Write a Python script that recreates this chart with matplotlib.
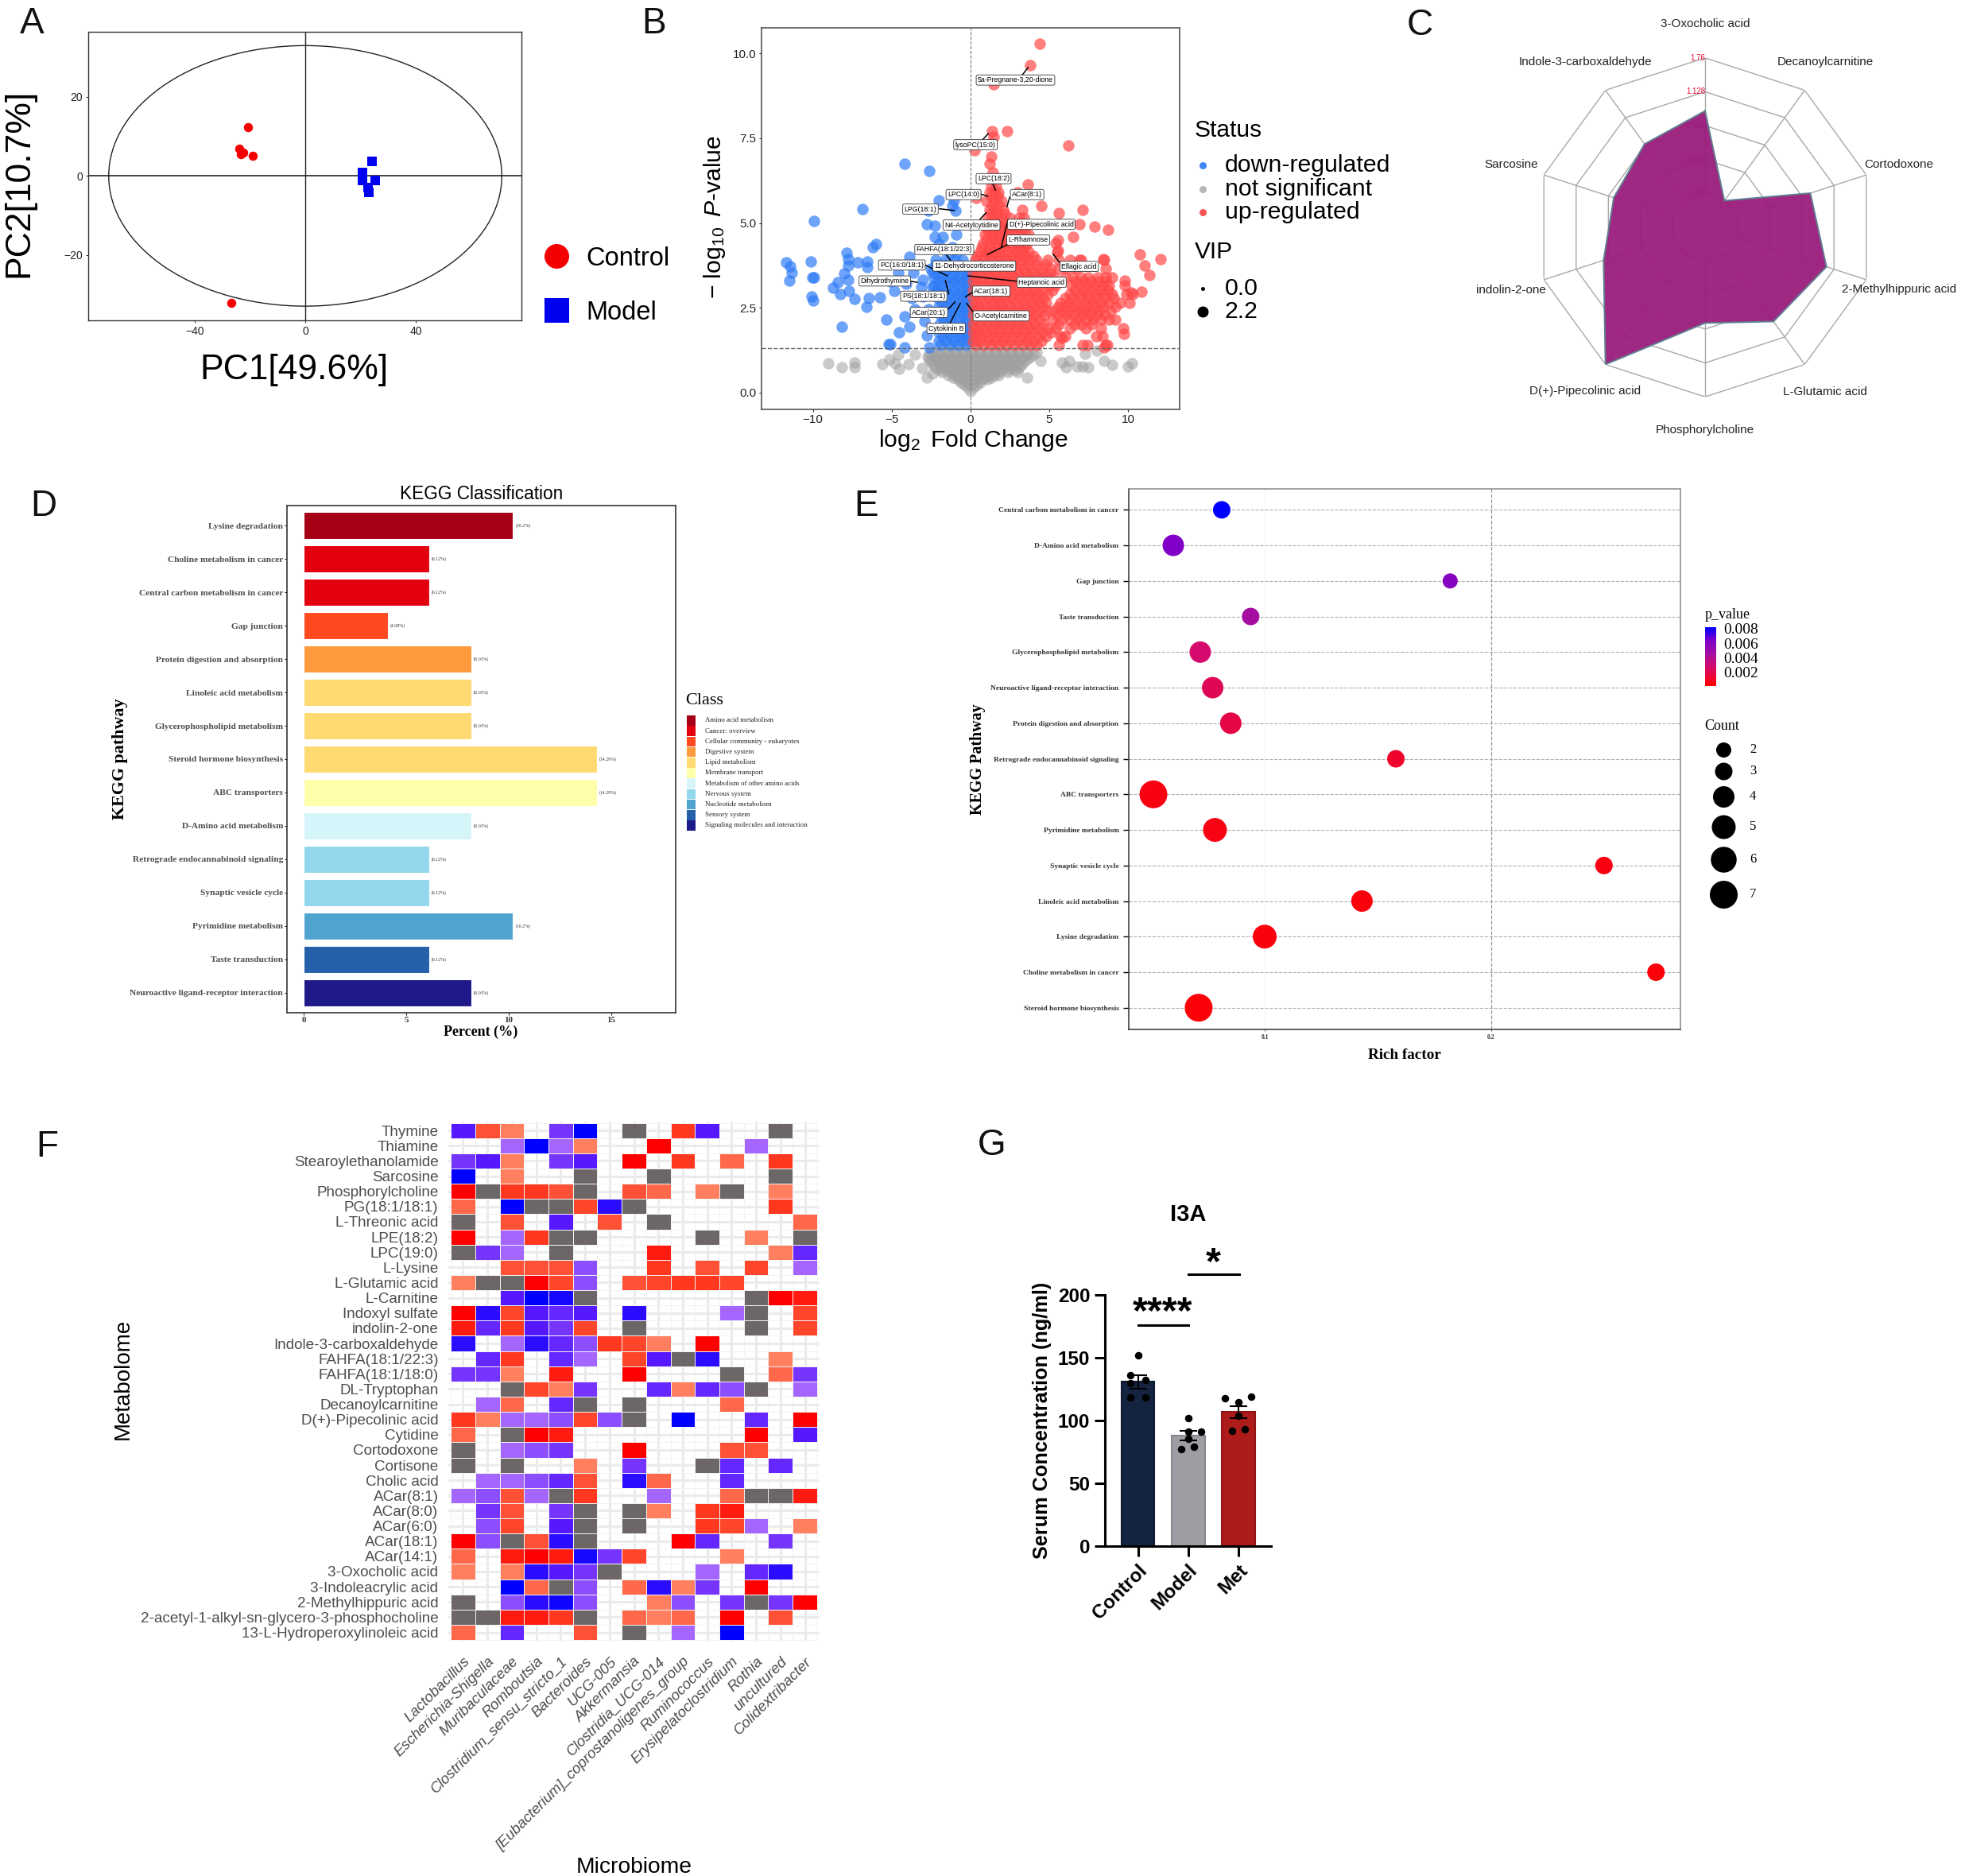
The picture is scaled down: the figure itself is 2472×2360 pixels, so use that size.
import numpy as np
import matplotlib
matplotlib.use('Agg')
import matplotlib.pyplot as plt
from matplotlib.patches import Ellipse, Rectangle
from matplotlib.colors import LinearSegmentedColormap
from matplotlib.path import Path

plt.rcParams['font.family'] = ['Liberation Sans', 'DejaVu Sans']
plt.rcParams['mathtext.fontset'] = 'custom'
plt.rcParams['mathtext.rm'] = 'Liberation Sans'
plt.rcParams['mathtext.it'] = 'Liberation Sans:italic'
plt.rcParams['mathtext.default'] = 'regular'
SERIF = ['Liberation Serif', 'DejaVu Serif']

# ---------- Panel A ----------
pca_control_x = [-20.8, -23.9, -23.4, -22.3, -19.0, -26.8]
pca_control_y = [12.3, 6.8, 5.5, 5.9, 5.1, -32.2]
pca_model_x = [24.0, 20.7, 20.7, 25.2, 22.6, 22.9]
pca_model_y = [3.6, 0.8, -1.1, -1.1, -2.9, -4.1]
pca_ticks_x = [-40, 0, 40]
pca_ticks_y = [-20, 0, 20]

# ---------- Panel B ----------
up_rows = {
 1.40: [.3,.8,1.3,1.8,2.3,2.8,3.3,3.8,4.2,5.6,7.1,7.4,8.6,8.7],
 1.52: [.15,.55,1.05,1.55,2.05,2.55,3.05,3.55,4.0,4.5],
 1.65: [.3,.7,1.2,1.7,2.2,2.7,3.2,3.7,4.3,4.8,5.7,6.0,8.0,8.4],
 1.78: [.15,.5,1.0,1.45,1.95,2.45,2.95,3.45,3.95,4.55,5.1],
 1.90: [.3,.8,1.3,1.8,2.3,2.8,3.3,3.8,4.3,4.9,5.4,6.3,7.3,8.3,9.7],
 2.02: [.15,.55,1.05,1.55,2.05,2.55,3.05,3.55,4.05,4.6,5.6,6.6,7.0,7.7],
 2.15: [.35,.9,1.4,1.9,2.4,2.9,3.4,3.9,4.4,5.2,5.8,6.3,6.8,7.3,7.8,8.3,8.8,9.2],
 2.28: [.15,.6,1.15,1.65,2.15,2.65,3.15,3.65,4.15,4.7,5.5,6.05,6.55,7.05,7.55,8.05,8.55],
 2.40: [.3,.8,1.3,1.8,2.3,2.8,3.3,3.8,4.3,4.9,5.3,5.8,6.2,6.8,7.2,7.7,8.2,8.9],
 2.52: [.15,.55,1.05,1.55,2.05,2.55,3.05,3.55,4.05,4.6,5.55,6.0,6.5,7.0,7.45,7.95,8.45,9.2],
 2.65: [.35,.9,1.4,1.9,2.4,2.9,3.4,3.9,4.4,4.8,5.7,6.2,6.7,7.3,7.8,8.3,8.8,9.5,10.1],
 2.78: [.15,.6,1.15,1.65,2.15,2.65,3.15,3.65,4.15,4.6,6.0,6.45,7.0,7.55,8.05,8.55,9.1],
 2.90: [.3,.8,1.3,1.8,2.3,2.8,3.3,3.8,4.3,4.9,6.3,6.9,7.4,8.0,8.5,9.0,9.9,10.3],
 3.02: [.15,.55,1.05,1.55,2.05,2.55,3.05,3.55,4.05,4.6,5.2,6.6,7.15,7.7,8.25,8.75],
 3.15: [.35,.9,1.4,1.9,2.4,2.9,3.4,3.9,4.4,5.0,5.4,6.4,6.9,7.4,7.9,8.4,8.8,9.8],
 3.28: [.15,.6,1.15,1.65,2.15,2.65,3.15,3.65,4.15,4.65,5.2,6.65,7.15,7.65,8.15,8.6],
 3.40: [.3,.8,1.3,1.8,2.3,2.8,3.3,3.8,4.3,4.8,5.3,6.0,6.5,7.0,7.5,8.1,8.6,9.0],
 3.52: [.15,.55,1.05,1.55,2.05,2.55,3.05,3.55,4.05,4.55,5.05],
 3.65: [.35,.9,1.4,1.9,2.4,2.9,3.4,3.9,4.5,5.1,5.6,6.1,6.7,8.6],
 3.78: [.15,.6,1.15,1.65,2.15,2.65,3.15,3.65,4.2,4.8],
 3.90: [.3,.8,1.3,1.8,2.3,2.8,3.3,3.7,4.2,4.9,5.6,6.3,6.9,7.0,8.5],
 4.02: [.4,.9,1.15,1.65,2.15,2.65,3.1,3.5,4.0],
 4.15: [.6,1.0,1.4,1.9,2.4,2.9,3.3,3.7,5.5],
 4.28: [.7,1.2,1.65,2.15,2.65,3.1,3.45],
 4.40: [.8,1.2,1.6,2.1,2.6,3.1,3.6,5.4],
 4.52: [1.0,1.45,1.85,2.35,2.85,3.35],
 4.65: [.9,1.3,1.7,2.2,2.7,3.2,3.7],
 4.78: [1.1,1.55,2.0,2.45,2.95,3.45],
 4.90: [1.0,1.4,1.9,2.4,3.0,3.4],
 5.02: [1.2,1.65,2.15,3.2],
 5.15: [1.1,1.5,2.0,2.5,3.1,3.4],
 5.28: [1.3,1.75,2.2],
 5.40: [1.2,1.6,2.1,3.3],
 5.52: [1.35,1.8],
 5.65: [1.0,1.5,2.0],
 5.78: [1.3,1.7],
 5.90: [1.2,1.5,1.8],
 6.10: [1.3,1.6],
}
up_x = [4.4,3.8,1.45,2.35,6.2,1.35,1.45,1.3,.25,1.3,1.2,1.4,1.5,3.65,3.0,.35,4.5,7.1,5.6,6.9,7.87,8.73,6.53,5.55,5.55,10.73,12.08,11.05,11.37,8.43,9.78,10.86,10.2,9.76,8.5,5.8]
up_y = [10.3,9.65,9.1,7.7,7.3,7.7,7.55,7.35,7.15,6.95,6.75,6.5,6.3,6.15,5.9,5.75,5.5,5.4,5.3,4.96,4.9,4.8,4.58,4.5,4.2,4.07,3.93,3.75,3.47,3.94,3.3,2.98,2.95,1.74,1.34,1.6]
down_rows = {
 1.40: [-.3,-.8,-1.3,-1.9],
 1.52: [-.15,-.55,-1.05,-1.55,-2.0],
 1.65: [-.3,-.75,-1.25,-1.75],
 1.78: [-.15,-.55,-1.0,-1.5,-2.0],
 1.90: [-.3,-.8,-1.3,-1.75],
 2.02: [-.15,-.55,-1.05,-1.55,-1.95],
 2.15: [-.3,-.75,-1.25,-1.7],
 2.28: [-.15,-.5,-1.0,-1.5,-1.9],
 2.40: [-.3,-.8,-1.3,-1.8],
 2.52: [-.15,-.55,-1.05,-1.55,-2.0],
 2.65: [-.3,-.75,-1.25,-1.8],
 2.78: [-.15,-.5,-1.0,-1.5,-2.05],
 2.90: [-.3,-.8,-1.3,-1.9],
 3.02: [-.15,-.55,-1.05,-1.6,-2.1],
 3.15: [-.3,-.8,-1.3,-1.8,-2.3],
 3.28: [-.15,-.55,-1.05,-1.55,-2.05],
 3.40: [-.3,-.8,-1.3,-1.8,-2.3],
 3.52: [-.15,-.6,-1.1,-1.6,-2.1],
 3.65: [-.35,-.85,-1.4,-1.9,-2.5],
 3.78: [-.6,-1.15,-1.65,-2.2],
 3.90: [-.5,-1.0,-1.6,-2.2],
 4.10: [-1.3,-.9],
}
down_x = [-4.16,-2.6,-6.87,-9.95,-2.03,-1.05,-1.17,-.93,-2.64,-2.76,-2.27,-2.27,-1.78,-.88,-2.03,-1.17,-6.0,-6.19,-7.85,-7.78,-7.16,-6.55,-6.55,-7.78,-10.15,-11.69,-11.44,-11.32,-11.49,-9.93,-10.02,-8.02,-8.39,-7.78,-8.7,-8.26,-7.73,-7.33,-10.1,-9.98,-6.43,-5.75,-6.6,-5.33,-8.14,-4.16,-4.55,-3.86,-5.2,-5.08,-4.18,-2.6,-2.76,-3.86,-4.84,-5.08,-4.6,-4.1,-3.6,-3.0,-2.4,-3.13,-3.74,-2.4,-3.0,-3.5,-2.64,-2.9]
down_y = [6.74,6.53,5.42,5.06,5.67,5.67,5.5,5.36,5.36,4.96,4.92,4.6,4.58,4.65,4.37,4.29,4.39,4.29,4.12,3.94,3.83,3.87,3.7,3.75,3.86,3.83,3.72,3.54,3.3,3.39,3.39,3.5,3.26,3.33,3.1,2.89,2.99,2.77,2.82,2.72,2.78,2.8,2.53,2.15,1.94,2.24,1.78,1.94,1.42,1.42,1.34,1.32,1.69,4.0,3.0,3.28,3.54,3.2,3.54,3.33,3.54,3.12,2.78,3.12,2.82,2.45,2.45,2.11]
ns_rows = {
 0.05: [0.0],
 0.15: [-.2,.2],
 0.22: [-.4,0.0,.4],
 0.30: [-.6,-.2,.2,.6],
 0.38: [-.8,-.45,-.05,.35,.75,1.05],
 0.45: [-1.1,-.7,-.3,.1,.5,.9,1.3],
 0.52: [-1.4,-1.0,-.55,-.15,.3,.7,1.1,1.5,1.8],
 0.60: [-1.8,-1.3,-.9,-.5,-.1,.3,.7,1.1,1.5,1.9,2.4],
 0.68: [-2.0,-1.55,-1.1,-.7,-.25,.2,.65,1.1,1.55,2.0,2.45,2.85],
 0.75: [-2.2,-1.8,-1.3,-.9,-.4,.1,.6,1.1,1.6,2.1,2.6,3.1],
 0.82: [-2.35,-1.9,-1.45,-1.0,-.55,-.1,.35,.85,1.35,1.85,2.35,2.85,3.25],
 0.90: [-2.5,-2.0,-1.5,-1.0,-.5,.0,.5,1.0,1.5,2.0,2.5,3.0,3.4],
 0.98: [-2.6,-2.15,-1.7,-1.25,-.75,-.25,.25,.75,1.25,1.75,2.25,2.75,3.2,3.6],
 1.05: [-2.7,-2.2,-1.7,-1.2,-.7,-.2,.3,.8,1.3,1.8,2.3,2.8,3.3,3.8],
 1.12: [-2.6,-2.1,-1.55,-1.0,-.5,.05,.55,1.05,1.55,2.05,2.55,3.05,3.55,4.0],
 1.20: [-2.4,-1.9,-1.4,-.9,-.4,.1,.6,1.1,1.6,2.1,2.6,3.1,3.6,4.2],
}
ns_x = [-9,-8.14,-7.33,-7.33,-5.57,-5.13,-4.8,-4.55,-3.9,-3.5,-4.6,-3.08,-2.4,-2.76,3.6,4.45,5.8,6.28,6.04,6.77,7.26,7.14,7.5,8.04,8.48,8.97,10.02,10.27,3.0]
ns_y = [.855,.75,.88,.75,.83,.98,.85,.69,.84,1.12,1.12,.73,.56,.44,.44,.94,.88,.92,.75,.77,1.15,.77,.75,1.23,.92,.81,.77,.87,.6]
volcano_labels = ['5a-Pregnane-3,20-dione','lysoPC(15:0)','LPC(18:2)','LPC(14:0)','ACar(8:1)','LPG(18:1)','N4-Acetylcytidine','D(+)-Pipecolinic acid','L-Rhamnose','FAHFA(18:1/22:3)','PC(16:0/18:1)','11-Dehydrocorticosterone','Ellagic acid','Heptanoic acid','Dihydrothymine','ACar(18:1)','PS(18:1/18:1)','ACar(20:1)','O-Acetylcarnitine','Cytokinin B']
volcano_label_x = [2.86,.32,1.47,-.44,3.6,-3.17,.07,4.5,3.67,-1.66,-4.35,.24,6.9,4.52,-5.43,1.32,-2.96,-2.63,1.95,-1.54]
volcano_label_y = [9.22,7.31,6.31,5.84,5.84,5.41,4.94,4.96,4.5,4.22,3.76,3.73,3.72,3.25,3.29,2.99,2.84,2.36,2.26,1.89]
volcano_line_x0 = [3.31,.78,1.4,.61,2.49,-1.96,.61,2.38,2.38,-1.54,-2.87,np.nan,5.67,3.0,-3.91,.12,-1.37,-1.42,.17,-1.29]
volcano_line_y0 = [9.38,7.46,6.18,5.86,5.76,5.42,5.11,5.09,4.37,4.08,3.76,np.nan,3.83,3.28,3.29,2.95,2.91,2.45,2.38,2.05]
volcano_line_x1 = [3.66,1.14,1.59,1.1,2.32,-1.05,.98,1.97,1.08,-1.03,-1.46,np.nan,5.25,-.15,-3.37,-.32,-1.59,-.98,-.24,-.64]
volcano_line_y1 = [9.59,7.64,5.97,5.79,5.48,5.37,5.3,4.31,4.07,3.73,3.44,np.nan,4.08,3.44,3.25,2.82,3.3,2.67,2.63,2.63]
volcano_xticks = [-10,-5,0,5,10]
volcano_yticks = [0.0,2.5,5.0,7.5,10.0]

# ---------- Panel C ----------
radar_names = ['3-Oxocholic acid','Decanoylcarnitine','Cortodoxone','2-Methylhippuric acid','L-Glutamic acid','Phosphorylcholine','D(+)-Pipecolinic acid','indolin-2-one','Sarcosine','Indole-3-carboxaldehyde']
radar_values = [0.77,-0.786,0.664,0.98,0.77,0.384,1.76,0.59,0.39,0.52]
radar_rings = [-0.768,-0.136,0.496,1.128,1.76]
radar_ring_labels = ['0.72','0.137','0.496','1.128','1.76']

# ---------- Panel D ----------
kegg_pathways = ['Lysine degradation','Choline metabolism in cancer','Central carbon metabolism in cancer','Gap junction','Protein digestion and absorption','Linoleic acid metabolism','Glycerophospholipid metabolism','Steroid hormone biosynthesis','ABC transporters','D-Amino acid metabolism','Retrograde endocannabinoid signaling','Synaptic vesicle cycle','Pyrimidine metabolism','Taste transduction','Neuroactive ligand-receptor interaction']
kegg_percent = [10.2,6.12,6.12,4.08,8.16,8.16,8.16,14.29,14.29,8.16,6.12,6.12,10.2,6.12,8.16]
kegg_class_idx = [0,1,1,2,3,4,4,4,5,6,7,7,8,9,10]
kegg_classes = ['Amino acid metabolism','Cancer: overview','Cellular community - eukaryotes','Digestive system','Lipid metabolism','Membrane transport','Metabolism of other amino acids','Nervous system','Nucleotide metabolism','Sensory system','Signaling molecules and interaction']
kegg_colors = ['#A50015','#E3000F','#FF4A20','#FE9A3C','#FEDA70','#FFFFAA','#D5F5FA','#92D7EB','#4FA3CE','#2560AA','#1F1A8A']

# ---------- Panel E ----------
rich_pathways = ['Central carbon metabolism in cancer','D-Amino acid metabolism','Gap junction','Taste transduction','Glycerophospholipid metabolism','Neuroactive ligand-receptor interaction','Protein digestion and absorption','Retrograde endocannabinoid signaling','ABC transporters','Pyrimidine metabolism','Synaptic vesicle cycle','Linoleic acid metabolism','Lysine degradation','Choline metabolism in cancer','Steroid hormone biosynthesis']
rich_factor = [0.081,0.0596,0.182,0.0938,0.0715,0.077,0.085,0.158,0.0508,0.078,0.25,0.143,0.1,0.273,0.0708]
rich_p = [0.0082,0.0063,0.0060,0.0045,0.0028,0.0022,0.0018,0.0012,0.0005,0.0006,0.0005,0.0004,0.0004,0.0003,0.0003]
rich_count = [3,4,2,3,4,4,4,3,7,5,3,4,5,3,7]
count_levels = [2,3,4,5,6,7]
count_diam_px = [19,22,27,30,32.5,35]

# ---------- Panel F ----------
_ = None
metabolites = ['Thymine','Thiamine','Stearoylethanolamide','Sarcosine','Phosphorylcholine','PG(18:1/18:1)','L-Threonic acid','LPE(18:2)','LPC(19:0)','L-Lysine','L-Glutamic acid','L-Carnitine','Indoxyl sulfate','indolin-2-one','Indole-3-carboxaldehyde','FAHFA(18:1/22:3)','FAHFA(18:1/18:0)','DL-Tryptophan','Decanoylcarnitine','D(+)-Pipecolinic acid','Cytidine','Cortodoxone','Cortisone','Cholic acid','ACar(8:1)','ACar(8:0)','ACar(6:0)','ACar(18:1)','ACar(14:1)','3-Oxocholic acid','3-Indoleacrylic acid','2-Methylhippuric acid','2-acetyl-1-alkyl-sn-glycero-3-phosphocholine','13-L-Hydroperoxylinoleic acid']
microbes = ['Lactobacillus','Escherichia-Shigella','Muribaculaceae','Romboutsia','Clostridium_sensu_stricto_1','Bacteroides','UCG-005','Akkermansia','Clostridia_UCG-014','[Eubacterium]_coprostanoligenes_group','Ruminococcus','Erysipelatoclostridium','Rothia','uncultured','Colidextribacter']
corr_cells = [
 [-3,2,1,_,-2,-4,_,0,_,3,-3,_,_,0,_],
 [_,_,-1,-4,-1,1,_,_,4,_,_,_,-1,_,_],
 [-2,-3,1,_,-2,-3,_,4,_,3,_,1.5,_,3,_],
 [-4,_,1,_,_,0,_,_,0,_,_,_,_,0,_],
 [4,0,3,3,2,0,_,2,1.5,_,1,0,_,1,_],
 [1.5,_,-4,0,0,2.5,-3.5,0,_,_,_,_,_,3,_],
 [0,_,2,_,-3,_,2,_,0,_,_,_,_,_,1.5],
 [4,_,-1,3,0,0,_,_,_,_,0,_,1,_,0],
 [0,-2,-1,_,0,_,_,_,3.5,_,_,_,_,1,-2.5],
 [_,_,2,2,2,-1.5,_,_,3,_,2,_,2.5,_,-1],
 [1,0,0,4,2.5,-1.5,_,2,2.5,3,3,2.5,_,_,_],
 [_,_,-3,-4,-3.7,0,_,_,_,_,_,_,0,4,3.5],
 [4,-3.5,2.5,-3,-2.5,-3,_,-3.5,_,_,_,-1,0,_,2.5],
 [3.5,-2.5,3,-3,-2,2.5,_,0,_,_,_,_,0,_,2.5],
 [-3.5,_,-1,-3.5,-2.5,-1.5,3,2.5,1,_,4,_,_,_,_],
 [_,-2.5,3,_,-2.5,-1,_,2.5,-3,0,-3.5,_,_,1,_],
 [-2,-2,1,_,3.5,_,_,4,_,_,_,0,_,1.5,-2],
 [_,_,0,2.5,1,-2,_,_,-2.5,1,-2.5,-1.5,0,_,-1],
 [_,-1,1.5,_,-2.5,0,_,0,_,_,_,1.5,_,_,_],
 [3,1,-1,-1,-1.5,2.5,-1.5,0,_,-4,_,_,-2.5,_,4],
 [1.5,_,0,4,3.5,_,_,_,_,_,_,_,4,_,-3],
 [0,_,-1,-1.5,-2,_,_,4,_,_,_,2,2,_,_],
 [0,_,0,_,_,1,_,-2,_,_,0,-2.5,_,-2.5,_],
 [_,-1,-1,-1.5,-2.5,2,_,-3.5,1.5,_,_,-2.5,_,_,_],
 [-1,-1.5,2,-1,0,3,_,_,-1,_,_,1.5,0,0,3.5],
 [_,-2,2,_,-2,0,_,0,1,_,3,3.5,_,_,_],
 [_,-1.5,2.5,_,-3,0,_,0,_,_,3,2.5,-1,_,1],
 [4,-1.5,0,2,-3.5,0,_,_,_,4,-2.5,_,_,-2,_],
 [1.5,_,3.5,4,3.5,-3.7,-2,2.5,_,_,_,1,_,_,_],
 [1,_,1,-3.5,-3,-2,0,_,_,_,-1,_,-2.5,-3.5,_],
 [_,_,-4,1.5,0,-1.5,_,1.5,-3.5,1,-2,_,4,_,_],
 [0,_,-1.5,-3.5,-3.8,-1.5,_,_,1,-1.5,_,-2,0,-2,4],
 [0,0,3.5,3.5,3,0,_,1.5,1,1.5,_,4,_,2,_],
 [1.5,_,-2.5,_,_,2,_,0,_,-1,_,-4,_,_,_],
]

# ---------- Panel G ----------
groups = ['Control','Model','Met']
group_means = [130.5,87.6,106.5]
group_sem = [5.4,3.8,5.0]
group_colors = ['#14233F','#9D9DA3','#AD1B1B']
group_edges = ['#0F1A30','#87878C','#8F1414']
dots_x = [[0,-.156,.145,-.156,-.156,.145],[0,0,.25,0,-.14,.12],[-.26,0,.26,0,-.13,.13]]
dots_y = [[151.4,135.9,131.9,129.4,118,118],[101.7,91,91,85,77.4,78.8],[117.5,114.4,118.9,103.4,91.8,93.2]]
g_yticks = [0,50,100,150,200]

# ---------- layout ----------
W, H = 2472, 2360
fig = plt.figure(figsize=(W/100, H/100), dpi=100, facecolor='white')

def axpx(l, t, r, b, **kw):
    return fig.add_axes([l/W, 1-b/H, (r-l)/W, (b-t)/H], **kw)

def place_xlabel(ax, s, xp, yp, **kw):
    ax.set_xlabel(s, va='center', ha='center', **kw)
    p = ax.get_position()
    ax.xaxis.set_label_coords((xp/W-p.x0)/p.width, ((1-yp/H)-p.y0)/p.height)

def place_ylabel(ax, s, xp, yp, **kw):
    ax.set_ylabel(s, va='center', ha='center', **kw)
    p = ax.get_position()
    ax.yaxis.set_label_coords((xp/W-p.x0)/p.width, ((1-yp/H)-p.y0)/p.height)

def px2s(d):
    return (d*0.72)**2

ov = fig.add_axes([0, 0, 1, 1], zorder=20)
ov.set_xlim(0, W); ov.set_ylim(H, 0); ov.axis('off'); ov.patch.set_alpha(0)

for s, x, y in [('A',40,30),('B',823,30),('C',1786,32),('D',55,637),('E',1090,637),('F',59,1443),('G',1248,1441)]:
    ov.text(x, y, s, fontsize=33, ha='center', va='center', color='#111111')

# ---------- A ----------
a = axpx(111, 40, 656, 403)
a.set_xlim(-78.4, 78.1); a.set_ylim(-36.6, 36.5)
a.add_patch(Ellipse((0, 0), 142, 66, fill=False, ec='#222222', lw=1))
a.axhline(0, color='#222222', lw=1.2); a.axvline(0, color='#222222', lw=1)
a.scatter(pca_control_x, pca_control_y, s=px2s(11.5), color='#F50000', lw=0, zorder=3)
a.scatter(pca_model_x, pca_model_y, s=px2s(11.5), marker='s', color='#0000F0', lw=0, zorder=3)
a.set_xticks(pca_ticks_x); a.set_yticks(pca_ticks_y)
a.tick_params(labelsize=10, length=2, width=.7, pad=3, colors='#222222')
for sp in a.spines.values():
    sp.set_color('#333333'); sp.set_linewidth(1)
place_xlabel(a, 'PC1[49.6%]', 370, 465, fontsize=32)
place_ylabel(a, 'PC2[10.7%]', 24, 230, fontsize=32)
ov.scatter([700], [322], s=px2s(31), color='#F50000', lw=0)
ov.scatter([700], [390], s=px2s(31), marker='s', color='#0000F0', lw=0)
ov.text(737, 325, 'Control', fontsize=23.5, va='center')
ov.text(737, 393, 'Model', fontsize=23.5, va='center')

# ---------- B ----------
b = axpx(957.5, 34.6, 1483.5, 515)
b.set_xlim(-13.28, 13.25); b.set_ylim(-0.5, 10.77)
def expand(rows, xs, ys):
    X = list(xs); Y = list(ys)
    for yv, row in rows.items():
        X += row; Y += [yv]*len(row)
    return X, Y
ms = px2s(14.5)
nx, ny = expand(ns_rows, ns_x, ns_y)
b.scatter(nx, ny, s=ms, color='#A0A0A0', alpha=.55, lw=0, zorder=2)
dx, dy = expand(down_rows, down_x, down_y)
b.scatter(dx, dy, s=ms, color='#2F7CF6', alpha=.7, lw=0, zorder=3)
ux, uy = expand(up_rows, up_x, up_y)
b.scatter(ux, uy, s=ms, color='#FF4848', alpha=.7, lw=0, zorder=4)
b.axhline(1.3, color='#666666', ls='--', lw=1, zorder=5)
b.axvline(0, color='#777777', ls='--', lw=.8, zorder=5)
for lab, lx, ly, x0, y0, x1, y1 in zip(volcano_labels, volcano_label_x, volcano_label_y, volcano_line_x0, volcano_line_y0, volcano_line_x1, volcano_line_y1):
    if not np.isnan(x0):
        b.plot([x0, x1], [y0, y1], color='black', lw=1.1, zorder=6)
    b.text(lx, ly, lab, fontsize=6.3, ha='center', va='center', zorder=7,
           bbox=dict(boxstyle='round,pad=0.22', fc='white', ec='#333333', lw=.6))
b.set_xticks(volcano_xticks); b.set_yticks(volcano_yticks)
b.set_yticklabels([f'{v:.1f}' for v in volcano_yticks])
b.tick_params(labelsize=11, length=2.5, width=.8, pad=2, colors='#222222')
for sp in b.spines.values():
    sp.set_color('#555555'); sp.set_linewidth(1.2)
place_xlabel(b, r'$\log_{2}$ Fold Change', 1224, 554, fontsize=21.7)
place_ylabel(b, r'$-\ \log_{10}\ \mathit{P}$-value', 899, 273, fontsize=21.7)
ov.text(1503, 164, 'Status', fontsize=21.5, va='center')
for yy, col, s in [(208,'#3F87F5','down-regulated'),(238,'#B5B5B5','not significant'),(267,'#F85555','up-regulated')]:
    ov.scatter([1512.6], [yy], s=px2s(9), color=col, lw=0)
    ov.text(1541, yy, s, fontsize=21.8, va='center')
ov.text(1503, 317, 'VIP', fontsize=21.5, va='center')
ov.scatter([1512.6], [363], s=px2s(5), color='black', lw=0)
ov.scatter([1512.6], [391.6], s=px2s(14), color='black', lw=0)
ov.text(1541, 363, '0.0', fontsize=21.8, va='center')
ov.text(1541, 391.6, '2.2', fontsize=21.8, va='center')

# ---------- C ----------
R_PX = 213.2
c = axpx(2145-R_PX, 286-R_PX, 2145+R_PX, 286+R_PX, projection='polar')
c.set_theta_zero_location('N'); c.set_theta_direction(-1)
c.set_ylim(-1.40, 1.76)
c.axis('off')
theta = np.deg2rad(np.arange(10)*36.0)
tc = np.append(theta, theta[0])
for r in radar_rings:
    c.plot(tc, [r]*11, color='#A8A8A8', lw=1, zorder=1)
for t in theta:
    c.plot([t, t], [radar_rings[0], radar_rings[-1]], color='#A8A8A8', lw=1, zorder=1)
vals = radar_values + radar_values[:1]
c.fill(tc, vals, color='#9A1C7C', alpha=.95, lw=0, zorder=2)
c.plot(tc, vals, color='#5F7F90', lw=1.4, zorder=3)
for r, s in zip(radar_rings, radar_ring_labels):
    c.text(0, r, s, color='#E8102F', fontsize=7, ha='right', va='center', zorder=1.5 if r < 0.6 else 4)
for s, x, y in zip(radar_names, [2145,2296,2389,2389,2296,2145,1994,1901,1901,1994], [30,78,207,364,493,541,492,365,207,78]):
    ov.text(x, y, s, fontsize=11, ha='center', va='center', color='#222222')

# ---------- D ----------
d = axpx(361, 636, 850, 1274)
d.set_xlim(-0.83, 18.15); d.set_ylim(14.6, -0.6)
ypos = np.arange(len(kegg_pathways))
d.barh(ypos, kegg_percent, height=.8, color=[kegg_colors[i] for i in kegg_class_idx], edgecolor='#FFFFFF', lw=.8)
for i, v in enumerate(kegg_percent):
    d.text(v+.12, i, f'({v}%)', fontsize=4.2, va='center', family=SERIF, color='#333333')
d.set_yticks(ypos); d.set_yticklabels(kegg_pathways, family=SERIF, fontweight='bold', fontsize=8.2, color='#4D4D4D')
d.set_xticks([0,5,10,15]); d.set_xticklabels(['0','5','10','15'], family=SERIF, fontweight='bold', fontsize=8, color='#333333')
d.tick_params(length=2, width=.7, pad=1.5)
for sp in d.spines.values():
    sp.set_color('#333333'); sp.set_linewidth(1.2)
d.set_title('KEGG Classification', fontsize=16.3, pad=6)
place_xlabel(d, 'Percent (%)', 605, 1298, family=SERIF, fontweight='bold', fontsize=13)
place_ylabel(d, 'KEGG pathway', 151, 955, family=SERIF, fontweight='bold', fontsize=15.8)
ov.text(862, 881, 'Class', family=SERIF, fontsize=16, va='center')
for i, (cl, col) in enumerate(zip(kegg_classes, kegg_colors)):
    yy = 906.5 + i*13.2
    ov.add_patch(Rectangle((863.6, yy-6.3), 11.5, 12.6, fc=col, ec='none'))
    ov.text(887, yy, cl, family=SERIF, fontsize=6.4, va='center', color='#222222')

# ---------- E ----------
e = axpx(1420, 614.5, 2114, 1294.6)
e.set_xlim(0.0399, 0.2838); e.set_ylim(14.6, -0.6)
ye = np.arange(len(rich_pathways))
for yy in ye:
    e.axhline(yy, color='#AFAFAF', ls='--', lw=.8, zorder=1)
e.axvline(0.2, color='#9A9A9A', ls='--', lw=.9, zorder=1)
e.axvline(0.1, color='#E2E2E2', ls=':', lw=.7, zorder=1)
pmap = LinearSegmentedColormap.from_list('pv', [(0,'#FF0000'),(.33,'#D50A6E'),(.54,'#A50FA0'),(.77,'#7F00C8'),(1,'#0000FF')])
diam = dict(zip(count_levels, count_diam_px))
sc = e.scatter(rich_factor, ye, s=[px2s(diam[n]) for n in rich_count], c=rich_p, cmap=pmap, vmin=.0001, vmax=.0082, lw=0, zorder=3)
e.set_yticks(ye); e.set_yticklabels(rich_pathways, family=SERIF, fontweight='bold', fontsize=6.8, color='#333333')
e.set_xticks([.1,.2]); e.set_xticklabels(['0.1','0.2'], family=SERIF, fontweight='bold', fontsize=5.5, color='#333333')
e.tick_params(axis='y', length=5, width=1, pad=4)
e.tick_params(axis='x', length=1.5, width=.5, pad=3)
for k, sp in e.spines.items():
    sp.set_color('#333333' if k in ('left','bottom') else '#888888'); sp.set_linewidth(1.1)
place_xlabel(e, 'Rich factor', 1767, 1327, family=SERIF, fontweight='bold', fontsize=13.8)
place_ylabel(e, 'KEGG Pathway', 1230, 955, family=SERIF, fontweight='bold', fontsize=14.4)
cax = axpx(2144.5, 789, 2159, 863)
cb = fig.colorbar(sc, cax=cax, ticks=[.002,.004,.006,.008])
cb.outline.set_visible(False)
cb.ax.set_yticklabels(['0.002','0.004','0.006','0.008'], family=SERIF, fontsize=14)
cb.ax.tick_params(length=0, pad=7)
ov.text(2144.5, 773, 'p_value', family=SERIF, fontsize=13, va='center')
ov.text(2144.5, 913, 'Count', family=SERIF, fontsize=13, va='center')
for n, dd, yy in zip(count_levels, count_diam_px, [943,970,1002,1040,1081,1125]):
    ov.scatter([2167.5], [yy], s=px2s(dd), color='black', lw=0)
    ov.text(2205, yy, str(n), family=SERIF, fontsize=12, ha='center', va='center')

# ---------- F ----------
f = axpx(564, 1410.7, 1031, 2065)
Z = np.array([[np.nan if v is None else v for v in row] for row in corr_cells], dtype=float)
hm = LinearSegmentedColormap.from_list('hm', [
    (0,'#0000FF'), (.125,'#5518FF'), (.25,'#7535FF'), (.375,'#A566FF'), (.45,'#A566FF'),
    (.5,'#666666'), (.55,'#FF8060'), (.625,'#FF8060'), (.75,'#FF5235'), (.875,'#FF3A20'), (1,'#FF0000')])
f.pcolormesh(np.arange(16)-.5, np.arange(35)-.5, np.ma.masked_invalid(Z), cmap=hm, vmin=-4, vmax=4,
             edgecolors='#F2F2F2', linewidth=.5, zorder=3)
f.set_xlim(-.6, 14.6); f.set_ylim(33.6, -.6)
f.set_xticks(np.arange(15)); f.set_yticks(np.arange(34))
f.grid(True, color='#EBEBEB', lw=2.2, zorder=0)
f.set_axisbelow(True)
f.set_yticklabels(metabolites, fontsize=13.55, color='#4D4D4D')
f.set_xticklabels(microbes, fontsize=13.5, color='#4D4D4D', rotation=45, ha='right', rotation_mode='anchor', style='italic', va='top')
f.tick_params(length=0, pad=9)
f.tick_params(axis='x', pad=12)
for sp in f.spines.values():
    sp.set_visible(False)
place_xlabel(f, 'Microbiome', 798, 2349, fontsize=20.3)
place_ylabel(f, 'Metabolome', 155, 1735, fontsize=20)

# ---------- G ----------
g = axpx(1390, 1628.5, 1599, 1945)
g.set_xlim(-.657, 2.65); g.set_ylim(0, 200)
g.bar(range(3), group_means, width=.66, color=group_colors, edgecolor=group_edges, lw=1.5, zorder=2)
for i in range(3):
    g.errorbar(i, group_means[i], yerr=group_sem[i], color='black', capsize=8, lw=1.5, capthick=1.5, zorder=3)
    g.scatter(np.array(dots_x[i])+i, dots_y[i], s=px2s(9.5), color='black', lw=0, zorder=4, clip_on=False)
g.set_xticks(range(3)); g.set_yticks(g_yticks)
g.set_xticklabels(groups, rotation=45, ha='right', rotation_mode='anchor', fontweight='bold', fontsize=17.5)
g.set_yticklabels([str(v) for v in g_yticks], fontweight='bold', fontsize=17.5)
g.tick_params(length=9.5, width=2.2, pad=4)
for k in ('top','right'):
    g.spines[k].set_visible(False)
for k in ('left','bottom'):
    g.spines[k].set_linewidth(2.2)
place_ylabel(g, 'Serum Concentration (ng/ml)', 1311, 1787, fontweight='bold', fontsize=18.2)
ov.text(1495, 1528, 'I3A', fontweight='bold', fontsize=21, ha='center', va='center')
g.plot([.0, 1.0], [175.7, 175.7], color='black', lw=2.2, clip_on=False, zorder=5)
g.plot([1.0, 2.02], [216, 216], color='black', lw=2.2, clip_on=False, zorder=5)
ov.text(1463, 1652, '****', fontweight='bold', fontsize=35, ha='center', va='center')
ov.text(1526, 1590, '*', fontweight='bold', fontsize=35, ha='center', va='center')

fig.savefig('out.png', dpi=100, facecolor='white')
